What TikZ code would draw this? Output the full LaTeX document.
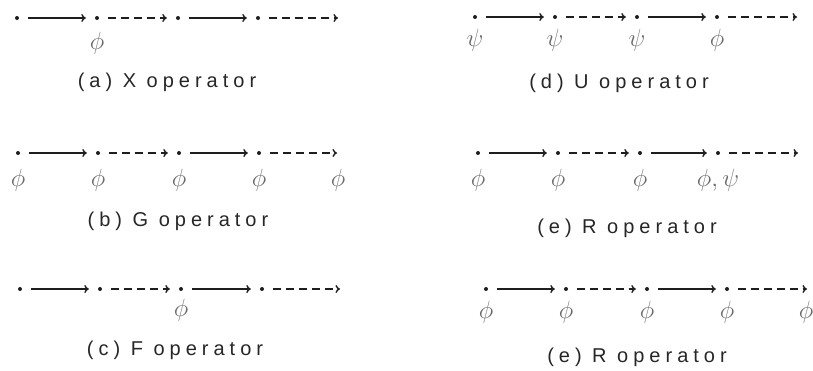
\documentclass[tikz,border=0pt]{standalone}
\usepackage{fontspec}
\setmainfont{Liberation Sans}
\usetikzlibrary{arrows.meta}
\newfontfamily\capfont[LetterSpace=25]{Liberation Sans}
\definecolor{lblgray}{RGB}{105,105,105}
\definecolor{linegray}{RGB}{30,30,30}
\tikzset{
  st/.style={circle,fill=linegray,inner sep=0pt,minimum size=4pt},
  solidarr/.style={draw=linegray,line width=1.4pt,-{To[length=4.5pt,width=8pt]},shorten <=9pt,shorten >=9pt},
  dasharr/.style={solidarr,dash pattern=on 8pt off 5pt},
  endarr/.style={draw=linegray,line width=1.4pt,dash pattern=on 8pt off 5pt,-{To[length=4.5pt,width=8pt]},shorten <=9pt},
  lab/.style={text=lblgray,font=\fontsize{24}{24}\selectfont,inner sep=0pt},
  captxt/.style={font=\capfont\fontsize{20}{20}\selectfont,text=black!85,inner sep=0pt}
}
\begin{document}
\begin{tikzpicture}[x=1pt,y=-1pt]
\useasboundingbox (0,0) rectangle (813,370);
% (a)
\node[st] (a1) at (17,18) {};
\node[st] (a2) at (97,18) {};
\node[st] (a3) at (178,18) {};
\node[st] (a4) at (258,18) {};
\coordinate (a5) at (338,18);
\draw[solidarr] (a1) -- (a2);
\draw[dasharr] (a2) -- (a3);
\draw[solidarr] (a3) -- (a4);
\draw[endarr] (a4) -- (a5);
\node[lab] (al2) at (97,43) {$\phi$};
\node[captxt] (acap) at (167,82) {(a) X operator};
% (b)
\node[st] (b1) at (18,153) {};
\node[st] (b2) at (98,153) {};
\node[st] (b3) at (179,153) {};
\node[st] (b4) at (259,153) {};
\coordinate (b5) at (337,153);
\draw[solidarr] (b1) -- (b2);
\draw[dasharr] (b2) -- (b3);
\draw[solidarr] (b3) -- (b4);
\draw[endarr] (b4) -- (b5);
\node[lab] (bl1) at (18,180) {$\phi$};
\node[lab] (bl2) at (98,180) {$\phi$};
\node[lab] (bl3) at (179,180) {$\phi$};
\node[lab] (bl4) at (259,180) {$\phi$};
\node[lab] (bl5) at (338,180) {$\phi$};
\node[captxt] (bcap) at (178,221) {(b) G operator};
% (c)
\node[st] (c1) at (20,289) {};
\node[st] (c2) at (100,289) {};
\node[st] (c3) at (181,289) {};
\node[st] (c4) at (262,289) {};
\coordinate (c5) at (340,289);
\draw[solidarr] (c1) -- (c2);
\draw[dasharr] (c2) -- (c3);
\draw[solidarr] (c3) -- (c4);
\draw[endarr] (c4) -- (c5);
\node[lab] (cl3) at (181,310) {$\phi$};
\node[captxt] (ccap) at (175,350) {(c) F operator};
% (d)
\node[st] (d1) at (475,17) {};
\node[st] (d2) at (555,17) {};
\node[st] (d3) at (637,17) {};
\node[st] (d4) at (717,17) {};
\coordinate (d5) at (797,17);
\draw[solidarr] (d1) -- (d2);
\draw[dasharr] (d2) -- (d3);
\draw[solidarr] (d3) -- (d4);
\draw[endarr] (d4) -- (d5);
\node[lab] (dl1) at (475,40) {$\psi$};
\node[lab] (dl2) at (555,40) {$\psi$};
\node[lab] (dl3) at (637,40) {$\psi$};
\node[lab] (dl4) at (717,40) {$\phi$};
\node[captxt] (dcap) at (619,83) {(d) U operator};
% (e)
\node[st] (e1) at (478,153) {};
\node[st] (e2) at (558,153) {};
\node[st] (e3) at (640,153) {};
\node[st] (e4) at (718,153) {};
\coordinate (e5) at (798,153);
\draw[solidarr] (e1) -- (e2);
\draw[dasharr] (e2) -- (e3);
\draw[solidarr] (e3) -- (e4);
\draw[endarr] (e4) -- (e5);
\node[lab] (el1) at (478,180) {$\phi$};
\node[lab] (el2) at (558,180) {$\phi$};
\node[lab] (el3) at (640,180) {$\phi$};
\node[lab] (el4) at (718,180) {$\phi,\psi$};
\node[captxt] (ecap) at (627,228) {(e) R operator};
% (f)
\node[st] (f1) at (486,289) {};
\node[st] (f2) at (566,289) {};
\node[st] (f3) at (647,289) {};
\node[st] (f4) at (727,289) {};
\coordinate (f5) at (807,289);
\draw[solidarr] (f1) -- (f2);
\draw[dasharr] (f2) -- (f3);
\draw[solidarr] (f3) -- (f4);
\draw[endarr] (f4) -- (f5);
\node[lab] (fl1) at (486,312) {$\phi$};
\node[lab] (fl2) at (566,312) {$\phi$};
\node[lab] (fl3) at (647,312) {$\phi$};
\node[lab] (fl4) at (727,312) {$\phi$};
\node[lab] (fl5) at (806,312) {$\phi$};
\node[captxt] (fcap) at (637,357) {(e) R operator};
\end{tikzpicture}
\end{document}
